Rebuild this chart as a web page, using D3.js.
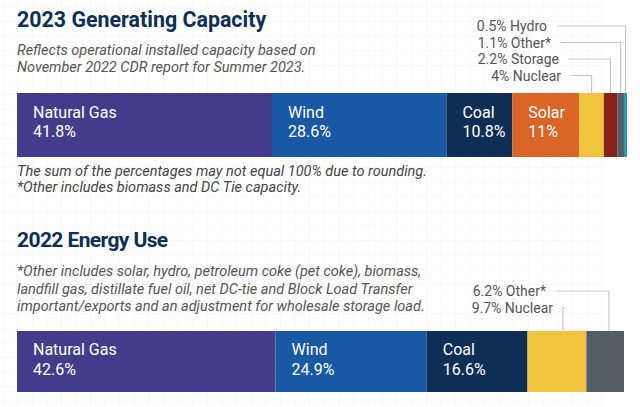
<!DOCTYPE html>
<html><head><meta charset="utf-8">
<script src="https://cdn.jsdelivr.net/npm/d3@7"></script>
<style>
html,body{margin:0;padding:0;background:#fff;}
svg{display:block;font-family:Roboto,"Noto Sans",sans-serif;}
</style></head>
<body><svg id="c" width="640" height="407"></svg>
<script>
// Chart 1: 2023 Generating Capacity
const capCategories = ["Natural Gas","Wind","Coal","Solar","Nuclear","Storage","Other*","Hydro"];
const capValues = [41.8, 28.6, 10.8, 11, 4, 2.2, 1.1, 0.5];
const capLabels = ["41.8%","28.6%","10.8%","11%","4%","2.2%","1.1%","0.5%"];
const capInside = [true,true,true,true,false,false,false,false];
// Chart 2: 2022 Energy Use
const useCategories = ["Natural Gas","Wind","Coal","Nuclear","Other*"];
const useValues = [42.6, 24.9, 16.6, 9.7, 6.2];
const useLabels = ["42.6%","24.9%","16.6%","9.7%","6.2%"];
const useInside = [true,true,true,false,false];

const colors = {"Natural Gas":"#433c8a","Wind":"#1858a5","Coal":"#0e2f55","Solar":"#d96526",
  "Nuclear":"#f0c43c","Storage":"#8b2217","Other*":"#525d66","Hydro":"#2a9ab8"};

const svg = d3.select("#c");

// faint background grid
const grid = svg.append("g");
const gx = d3.range(3, 606, 14.6), gy = d3.range(7, 407, 14.6);
grid.selectAll("line.v").data(gx).join("line").attr("x1",d=>d).attr("x2",d=>d).attr("y1",0).attr("y2",407)
  .attr("stroke","#f8f8f8").attr("stroke-width",1);
grid.selectAll("line.h").data(gy).join("line").attr("y1",d=>d).attr("y2",d=>d).attr("x1",0).attr("x2",605)
  .attr("stroke","#f8f8f8").attr("stroke-width",1);

function textBlock(lines, x, y0, dy, opts){
  const t = svg.append("text").attr("x",x).attr("y",y0)
    .attr("font-size",opts.size).attr("fill",opts.fill)
    .attr("font-style",opts.italic?"italic":"normal").attr("font-weight",opts.weight||400);
  lines.forEach((l,i)=>t.append("tspan").attr("x",x).attr("y",y0+i*dy).text(l));
}

function drawBar(cats, vals, labels, inside, cfg){
  const x = d3.scaleLinear().domain([0, d3.sum(vals)]).range([17, cfg.right]);
  const y = d3.scaleBand().domain(["bar"]).range([cfg.top, cfg.bottom]);
  const cum = d3.cumsum(vals);
  const segs = cats.map((c,i)=>({c, v:vals[i], lab:labels[i], inside:inside[i], x0:x(cum[i]-vals[i]), x1:x(cum[i])}));
  const g = svg.append("g");
  g.selectAll("rect").data(segs).join("rect")
    .attr("x",d=>d.x0).attr("width",d=>d.x1-d.x0)
    .attr("y",y("bar")).attr("height",y.bandwidth())
    .attr("fill",d=>colors[d.c]);
  const ins = segs.filter(d=>d.inside);
  const lt = g.selectAll("text.in").data(ins).join("text")
    .attr("x",d=>d.x0+16).attr("fill","#fff").attr("font-size",16);
  lt.append("tspan").attr("x",d=>d.x0+16).attr("y",y("bar")+cfg.l1).text(d=>d.c);
  lt.append("tspan").attr("x",d=>d.x0+16).attr("y",y("bar")+cfg.l2).text(d=>d.lab);
  // outside callouts (stacked from last to first)
  const outs = segs.filter(d=>!d.inside).reverse();
  outs.forEach((d,i)=>{
    const ty = cfg.calloutY + i*cfg.calloutDy;
    const lx = d.x0 + (d.x1-d.x0)*cfg.frac;
    g.append("text").attr("x",cfg.textRight[i]).attr("y",ty+5)
      .attr("text-anchor","end").attr("font-size",14).attr("fill","#555")
      .text(d.lab+" "+d.c);
    g.append("path").attr("d",`M${cfg.lineStart[i]},${ty}H${lx}V${y("bar")}`)
      .attr("fill","none").attr("stroke","#c4c8cc").attr("stroke-width",1.2);
  });
}

// Titles and notes
svg.append("text").attr("x",17).attr("y",27).attr("font-size",21.4).attr("font-weight",700)
  .attr("fill","#0e2f55").text("2023 Generating Capacity");
textBlock(["Reflects operational installed capacity based on","November 2022 CDR report for Summer 2023."],
  17, 55, 17, {size:14.5, fill:"#555", italic:true});

drawBar(capCategories, capValues, capLabels, capInside,
  {top:93, bottom:157, right:627, l1:25, l2:44, calloutY:26, calloutDy:16.5, frac:0.5,
   textRight:[547,551,559,561], lineStart:[557,561,568,572]});

textBlock(["The sum of the percentages may not equal 100% due to rounding.","*Other includes biomass and DC Tie capacity."],
  17, 176, 16, {size:14.5, fill:"#444", italic:true});

svg.append("text").attr("x",17).attr("y",247).attr("font-size",21).attr("font-weight",700)
  .attr("fill","#0e2f55").attr("letter-spacing",-0.6).text("2022 Energy Use");
textBlock(["*Other includes solar, hydro, petroleum coke (pet coke), biomass,",
  "landfill gas, distillate fuel oil, net DC-tie and Block Load Transfer",
  "important/exports and an adjustment for wholesale storage load."],
  17, 276, 17.5, {size:14.5, fill:"#555", italic:true});

drawBar(useCategories, useValues, useLabels, useInside,
  {top:331, bottom:392, right:624, l1:24, l2:44, calloutY:291, calloutDy:16.5, frac:0.6,
   textRight:[546,553], lineStart:[557,565]});
</script></body></html>
